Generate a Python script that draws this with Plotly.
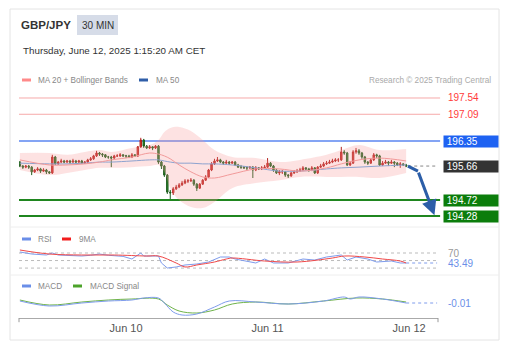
import plotly.graph_objects as go

# ---------------- data ----------------
first_open = 195.77
close = [195.66, 195.63, 195.66, 195.63, 195.50, 195.55, 195.58, 195.52, 195.55, 195.50,
         195.47, 195.91, 195.72, 195.77, 195.80, 195.77, 195.80, 195.77, 195.80, 195.77,
         195.80, 195.74, 195.77, 195.83, 195.86, 195.94, 196.02, 195.99, 195.97, 195.91,
         195.91, 195.88, 195.94, 195.94, 195.97, 195.94, 195.94, 195.91, 195.97, 195.94,
         196.19, 196.38, 196.21, 196.16, 196.19, 196.16, 196.21, 195.77, 195.66, 195.41,
         194.94, 194.92, 195.03, 195.08, 195.14, 195.19, 195.25, 195.25, 195.27, 195.16,
         195.05, 195.16, 195.27, 195.36, 195.55, 195.72, 195.80, 195.83, 195.77, 195.74,
         195.77, 195.74, 195.77, 195.69, 195.63, 195.63, 195.61, 195.61, 195.63, 195.55,
         195.61, 195.58, 195.61, 195.63, 195.74, 195.66, 195.55, 195.47, 195.50, 195.50,
         195.41, 195.39, 195.47, 195.50, 195.52, 195.55, 195.61, 195.58, 195.55, 195.61,
         195.47, 195.63, 195.66, 195.72, 195.74, 195.77, 195.80, 195.83, 195.83, 196.05,
         196.02, 195.69, 195.74, 196.05, 196.08, 196.02, 195.91, 195.77, 195.74, 195.83,
         195.97, 195.94, 195.69, 195.74, 195.77, 195.74, 195.77, 195.74, 195.69, 195.72,
         195.69, 195.66]
high = [195.80, 195.69, 195.69, 195.69, 195.66, 195.58, 195.63, 195.61, 195.60, 195.58,
        195.52, 195.97, 195.94, 195.80, 195.86, 195.83, 195.83, 195.83, 195.86, 195.83,
        195.83, 195.83, 195.80, 195.86, 195.91, 195.97, 196.08, 196.05, 196.02, 195.99,
        195.94, 195.94, 195.97, 195.99, 196.02, 195.99, 195.97, 195.97, 196.02, 195.99,
        196.21, 196.44, 196.41, 196.24, 196.24, 196.21, 196.24, 196.24, 195.80, 195.69,
        195.44, 195.00, 195.08, 195.14, 195.19, 195.25, 195.30, 195.30, 195.33, 195.30,
        195.19, 195.19, 195.30, 195.41, 195.58, 195.77, 195.86, 195.91, 195.86, 195.80,
        195.83, 195.80, 195.80, 195.80, 195.72, 195.69, 195.66, 195.66, 195.66, 195.66,
        195.66, 195.63, 195.66, 195.69, 195.88, 195.77, 195.69, 195.58, 195.55, 195.55,
        195.52, 195.44, 195.50, 195.55, 195.58, 195.61, 195.66, 195.63, 195.61, 195.66,
        195.63, 195.66, 195.72, 195.77, 195.80, 195.83, 195.86, 195.88, 195.88, 196.19,
        196.10, 196.05, 195.80, 196.10, 196.16, 196.13, 196.05, 195.94, 195.80, 195.88,
        196.02, 196.00, 195.97, 195.80, 195.83, 195.80, 195.83, 195.80, 195.77, 195.77,
        195.74, 195.72]
low = [195.63, 195.58, 195.60, 195.58, 195.41, 195.47, 195.52, 195.47, 195.50, 195.44,
       195.44, 195.44, 195.69, 195.69, 195.74, 195.74, 195.74, 195.72, 195.74, 195.74,
       195.74, 195.72, 195.72, 195.74, 195.80, 195.83, 195.91, 195.94, 195.91, 195.88,
       195.86, 195.63, 195.86, 195.91, 195.91, 195.91, 195.88, 195.88, 195.88, 195.91,
       195.91, 196.16, 196.16, 196.13, 196.13, 196.10, 196.13, 195.72, 195.58, 195.36,
       194.89, 194.75, 194.86, 195.00, 195.05, 195.11, 195.16, 195.19, 195.22, 195.11,
       194.97, 195.03, 195.14, 195.25, 195.33, 195.52, 195.69, 195.77, 195.74, 195.69,
       195.72, 195.69, 195.72, 195.66, 195.61, 195.58, 195.58, 195.55, 195.58, 195.33,
       195.52, 195.55, 195.55, 195.58, 195.61, 195.63, 195.50, 195.44, 195.41, 195.44,
       195.36, 195.33, 195.36, 195.44, 195.47, 195.50, 195.52, 195.55, 195.50, 195.52,
       195.44, 195.44, 195.61, 195.63, 195.69, 195.72, 195.74, 195.77, 195.77, 195.80,
       195.97, 195.66, 195.66, 195.72, 196.00, 195.97, 195.86, 195.72, 195.69, 195.72,
       195.80, 195.88, 195.66, 195.66, 195.72, 195.66, 195.72, 195.63, 195.66, 195.61,
       195.66, 195.63]

band_idx = [0, 10, 16, 22, 27, 31, 38, 44, 47, 49, 51, 54, 58, 62, 66, 72, 80, 88, 95, 104, 109, 115, 122, 131]
band_upper = [196.02, 196.02, 195.97, 196.05, 196.10, 196.05, 196.16, 196.24, 196.38, 196.60, 196.71, 196.74,
              196.63, 196.38, 196.10, 195.91, 195.88, 195.77, 195.83, 195.97, 196.10, 196.24, 196.10, 196.13]
band_lower = [195.55, 195.41, 195.47, 195.55, 195.61, 195.61, 195.63, 195.66, 195.69, 195.50, 195.05, 194.72,
              194.53, 194.50, 194.67, 195.05, 195.19, 195.27, 195.36, 195.36, 195.36, 195.36, 195.33, 195.47]
ma20 = [195.83, 195.69, 195.69, 195.72, 195.77, 195.83, 195.91, 196.02, 195.99, 195.94, 195.86, 195.69,
        195.50, 195.36, 195.33, 195.44, 195.58, 195.58, 195.52, 195.61, 195.72, 195.83, 195.88, 195.80]
ma50 = [195.74, 195.72, 195.72, 195.74, 195.77, 195.77, 195.80, 195.83, 195.83, 195.80, 195.77, 195.74,
        195.74, 195.72, 195.72, 195.69, 195.61, 195.52, 195.52, 195.58, 195.61, 195.63, 195.66, 195.69]

rsi_idx = [0, 4, 9, 11, 13, 17, 21, 24, 27, 30, 32, 35, 38, 41, 42, 45, 47, 48, 50, 53, 56, 60, 64, 68, 71,
           73, 77, 80, 83, 86, 91, 96, 100, 104, 109, 111, 114, 118, 121, 126, 129, 131]
rsi = [72.7, 67.3, 64.7, 70.0, 64.7, 64.0, 62.0, 64.0, 67.3, 64.0, 62.0, 61.0, 54.1, 70.0, 62.0, 62.0, 62.0,
       43.5, 30.2, 32.9, 38.2, 40.8, 46.1, 59.4, 59.4, 54.1, 48.8, 43.5, 54.1, 43.5, 43.5, 54.1, 51.4, 59.4,
       64.7, 51.4, 59.4, 54.1, 46.1, 48.8, 43.5, 43.49]
rsi_ma_idx = [0, 10, 21, 32, 43, 47, 53, 56, 60, 66, 70, 72, 83, 94, 106, 110, 117, 123, 129, 131]
rsi_ma = [78.0, 67.3, 64.7, 64.7, 62.0, 62.0, 43.5, 32.9, 38.2, 46.1, 54.1, 56.7, 48.8, 46.1, 56.7, 62.0,
          59.4, 54.1, 48.8, 43.5]
rsi_levels = [70, 50, 30]

macd_idx = [0, 10, 21, 30, 38, 42, 47, 49, 52, 55, 60, 66, 71, 80, 91, 103, 110, 112, 115, 123, 131]
macd = [0.01, -0.04, -0.01, 0.01, 0.02, 0.04, 0.04, -0.01, -0.10, -0.13, -0.12, -0.05, 0.01, 0.00, -0.02,
        0.01, 0.05, 0.03, 0.05, 0.03, -0.01]
sig_idx = [0, 10, 21, 30, 38, 47, 50, 54, 60, 66, 72, 80, 91, 103, 114, 123, 131]
signal = [0.02, -0.03, 0.00, 0.02, 0.03, 0.03, -0.03, -0.09, -0.11, -0.08, -0.02, 0.00, -0.02, 0.01, 0.04,
          0.03, 0.00]

resist_red = [197.54, 197.09]
resist_blue = 196.35
last_price = 195.66
supports = [194.72, 194.28]
rsi_last = 43.49
macd_last = -0.01

proj_idx = [131.6, 135.0, 140.6]
proj_price = [195.66, 195.52, 194.30]

tick_pos = [36, 84, 132]
tick_text = ["Jun 10", "Jun 11", "Jun 12"]

# ---------------- layout helpers ----------------
W, H = 511, 353
FONT = "Liberation Sans, Arial, sans-serif"
def px(x):
    return x / W
def py(y):
    return 1 - y / H

x_left, x_right = 19, 438
xdom = [px(x_left), px(x_right)]
xrange_ = [-0.3, 141.8]
label_idx = 142.9  # pointer tip of the price labels, just right of the plot

n = len(close)
idx = list(range(n))
open_ = [first_open] + close[:-1]

fig = go.Figure()

# Bollinger band
fig.add_trace(go.Scatter(x=band_idx, y=band_lower, mode="lines", line=dict(width=0, shape="spline"),
                         hoverinfo="skip", showlegend=False))
fig.add_trace(go.Scatter(x=band_idx, y=band_upper, mode="lines", line=dict(width=0, shape="spline"),
                         fill="tonexty", fillcolor="rgba(248,150,150,0.28)", hoverinfo="skip", showlegend=False))
fig.add_trace(go.Scatter(x=band_idx, y=ma50, mode="lines", line=dict(width=1, color="#8ea3cf", shape="spline"),
                         showlegend=False))
fig.add_trace(go.Scatter(x=band_idx, y=ma20, mode="lines", line=dict(width=1, color="#f29a9a", shape="spline"),
                         showlegend=False))

fig.add_trace(go.Candlestick(
    x=idx, open=open_, high=high, low=low, close=close,
    increasing=dict(line=dict(color="#b3201c", width=1), fillcolor="#e8312b"),
    decreasing=dict(line=dict(color="#1d5e1d", width=1), fillcolor="#2f8a2f"),
    showlegend=False, whiskerwidth=0))

# projection arrow
fig.add_trace(go.Scatter(x=proj_idx[:2], y=proj_price[:2], mode="lines",
                         line=dict(color="#2c5ea8", width=3), showlegend=False, cliponaxis=False))

# RSI
fig.add_trace(go.Scatter(x=rsi_idx, y=rsi, xaxis="x2", yaxis="y2", mode="lines",
                         line=dict(color="#7f9cec", width=1), showlegend=False))
fig.add_trace(go.Scatter(x=rsi_ma_idx, y=rsi_ma, xaxis="x2", yaxis="y2", mode="lines",
                         line=dict(color="#f04848", width=1, shape="spline"), showlegend=False))
fig.add_trace(go.Scatter(x=[rsi_idx[-1], xrange_[1] - 0.3], y=[rsi_last, rsi_last], xaxis="x2", yaxis="y2",
                         mode="lines", line=dict(color="#7f9cec", width=1, dash="dot"), showlegend=False))

# MACD
fig.add_trace(go.Scatter(x=sig_idx, y=signal, xaxis="x3", yaxis="y3", mode="lines",
                         line=dict(color="#6fb34a", width=1, shape="spline"), showlegend=False))
fig.add_trace(go.Scatter(x=macd_idx, y=macd, xaxis="x3", yaxis="y3", mode="lines",
                         line=dict(color="#7f9cec", width=1, shape="spline"), showlegend=False))
fig.add_trace(go.Scatter(x=[macd_idx[-1], xrange_[1] - 0.3], y=[macd_last, macd_last], xaxis="x3", yaxis="y3",
                         mode="lines", line=dict(color="#7f9cec", width=1, dash="dot"), showlegend=False))

shapes = []
annotations = []

# card and separators
shapes.append(dict(type="rect", xref="paper", yref="paper", x0=px(10), x1=px(499), y0=py(340), y1=py(9),
                   line=dict(color="#e4e4e4", width=1), layer="below"))
for yy in (227, 275):
    shapes.append(dict(type="line", xref="paper", yref="paper", x0=px(10), x1=px(499), y0=py(yy), y1=py(yy),
                       line=dict(color="#eeeeee", width=1), layer="below"))

# level lines
for lv in resist_red:
    shapes.append(dict(type="line", xref="x domain", yref="y", x0=0, x1=1.005, y0=lv, y1=lv,
                       line=dict(color="#f6a9a9", width=1), layer="below"))
    annotations.append(dict(xref="paper", yref="y", x=px(446), y=lv, text=f"{lv:.2f}", showarrow=False,
                            xanchor="left", yanchor="middle", font=dict(size=10, color="#ff3b3b", family=FONT)))
shapes.append(dict(type="line", xref="x domain", yref="y", x0=0, x1=1.005, y0=resist_blue, y1=resist_blue,
                   line=dict(color="#5b86f0", width=1.5), layer="below"))
for lv in supports:
    shapes.append(dict(type="line", xref="x domain", yref="y", x0=0, x1=1.005, y0=lv, y1=lv,
                       line=dict(color="#1f861f", width=2), layer="below"))
shapes.append(dict(type="line", xref="x", yref="y", x0=idx[-1] + 0.7, x1=xrange_[1], y0=last_price, y1=last_price,
                   line=dict(color="#888888", width=1, dash="dot"), layer="below"))

# boxed price labels
boxes = [(resist_blue, "#1e62f2"), (last_price, "#333333"), (supports[0], "#0b7d0b"), (supports[1], "#0b7d0b")]
for lv, col in boxes:
    fig.add_trace(go.Scatter(x=[label_idx], y=[lv], mode="markers", cliponaxis=False,
                             marker=dict(symbol="triangle-left", size=11, color=col, line=dict(width=0)),
                             showlegend=False, hoverinfo="skip"))
    annotations.append(dict(xref="paper", yref="y", x=px(443), y=lv, text=f" {lv:.2f}", showarrow=False,
                            xanchor="left", yanchor="middle", align="left", width=54, height=11,
                            bgcolor=col, borderpad=0,
                            font=dict(size=10, color="#ffffff", family=FONT)))

# arrow head of projection
annotations.append(dict(xref="x", yref="y", axref="x", ayref="y", x=proj_idx[2], y=proj_price[2],
                        ax=proj_idx[1], ay=proj_price[1], showarrow=True, arrowhead=2, arrowsize=1,
                        arrowwidth=3, arrowcolor="#2c5ea8", text=""))

# RSI grid lines and labels
for lv in rsi_levels:
    shapes.append(dict(type="line", xref="x2 domain", yref="y2", x0=0, x1=1, y0=lv, y1=lv,
                       line=dict(color="#bbbbbb", width=1, dash="dot"), layer="below"))
annotations.append(dict(xref="paper", yref="y2", x=px(446), y=70, text="70", showarrow=False, xanchor="left",
                        yanchor="middle", font=dict(size=10, color="#999999", family=FONT)))
annotations.append(dict(xref="paper", yref="y2", x=px(446), y=rsi_last, text=f"{rsi_last:.2f}", showarrow=False,
                        xanchor="left", yanchor="middle", font=dict(size=10, color="#6b8fe8", family=FONT)))
annotations.append(dict(xref="paper", yref="y3", x=px(446), y=macd_last, text=f"{macd_last:.2f}", showarrow=False,
                        xanchor="left", yanchor="middle", font=dict(size=10, color="#6b8fe8", family=FONT)))

# axis end ticks
for xd in (0, 1):
    shapes.append(dict(type="line", xref="x3 domain", yref="y3 domain", x0=xd, x1=xd, y0=0, y1=-0.15,
                       line=dict(color="#999999", width=1)))

# header
annotations.append(dict(xref="paper", yref="paper", x=px(19), y=py(25), text="<b>GBP/JPY</b>", showarrow=False,
                        xanchor="left", yanchor="middle", font=dict(size=11.5, color="#333333", family=FONT)))
shapes.append(dict(type="rect", xref="paper", yref="paper", x0=px(77), x1=px(118), y0=py(35), y1=py(15),
                   fillcolor="#d6dce8", line=dict(width=0), layer="below"))
annotations.append(dict(xref="paper", yref="paper", x=px(97.5), y=py(25), text="30 MIN", showarrow=False,
                        xanchor="center", yanchor="middle", font=dict(size=10, color="#333333", family=FONT)))
annotations.append(dict(xref="paper", yref="paper", x=px(21), y=py(50),
                        text="Thursday, June 12, 2025 1:15:20 AM CET", showarrow=False,
                        xanchor="left", yanchor="middle", font=dict(size=9.8, color="#333333", family=FONT)))

# legends
def legend_item(x_sw, y, color, label, x_text):
    shapes.append(dict(type="rect", xref="paper", yref="paper", x0=px(x_sw), x1=px(x_sw + 9),
                       y0=py(y + 1.5), y1=py(y - 1.5), fillcolor=color, line=dict(width=0)))
    annotations.append(dict(xref="paper", yref="paper", x=px(x_text), y=py(y), text=label, showarrow=False,
                            xanchor="left", yanchor="middle", font=dict(size=8.2, color="#888888", family=FONT)))

legend_item(22, 80, "#ff8a8a", "MA 20 + Bollinger Bands", 36)
legend_item(139, 80, "#2f5ea8", "MA 50", 154)
legend_item(22, 239, "#6a8ee8", "RSI", 36)
legend_item(62, 239, "#f21d1d", "9MA", 77)
legend_item(22, 286, "#6a8ee8", "MACD", 36)
legend_item(73, 286, "#4ca32a", "MACD Signal", 88)
annotations.append(dict(xref="paper", yref="paper", x=px(493), y=py(80), text="Research © 2025 Trading Central",
                        showarrow=False, xanchor="right", yanchor="middle",
                        font=dict(size=8.2, color="#aaaaaa", family=FONT)))

hidden = dict(showgrid=False, zeroline=False, showticklabels=False, showline=False, ticks="")
fig.update_layout(
    width=W, height=H, margin=dict(l=0, r=0, t=0, b=0),
    paper_bgcolor="white", plot_bgcolor="white", showlegend=False,
    font=dict(family=FONT),
    xaxis=dict(domain=xdom, range=xrange_, rangeslider=dict(visible=False), anchor="y", **hidden),
    yaxis=dict(domain=[py(226), py(88)], range=[194.004, 197.816], anchor="x", **hidden),
    xaxis2=dict(domain=xdom, range=xrange_, anchor="y2", **hidden),
    yaxis2=dict(domain=[py(272), py(244)], range=[19.6, 93.9], anchor="x2", **hidden),
    xaxis3=dict(domain=xdom, range=xrange_, anchor="y3", showgrid=False, zeroline=False,
                showline=True, linecolor="#aaaaaa", linewidth=1, ticks="",
                tickvals=tick_pos, ticktext=tick_text, tickfont=dict(size=11, color="#555555", family=FONT)),
    yaxis3=dict(domain=[py(318), py(290)], range=[-0.16, 0.12], anchor="x3", **hidden),
    shapes=shapes, annotations=annotations,
)

fig.write_html("out.html")
